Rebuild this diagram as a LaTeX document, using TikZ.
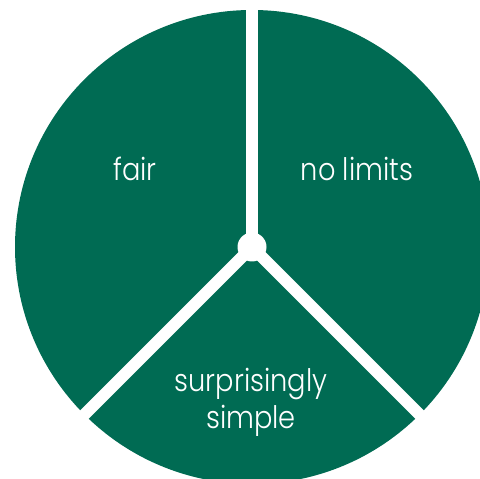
\documentclass[tikz,border=0pt]{standalone}
\usepackage{fontspec}
\setmainfont{Poppins Light}[FakeStretch=0.88]
\usetikzlibrary{calc}
\definecolor{pine}{HTML}{006B53}
\begin{document}
\begin{tikzpicture}[x=1pt,y=1pt,
  divider/.style={white,line width=12pt},
  label/.style={text=white,font=\fontsize{31}{37}\selectfont,align=center,inner sep=0pt}]
\useasboundingbox (0,0) rectangle (480,479);
\clip (0,0) rectangle (480,479);
\coordinate (c) at (252,232);
\fill[pine] (c) circle[radius=237];
\coordinate (up) at ($(c)+(90:250)$);
\coordinate (ll) at ($(c)+(225:250)$);
\coordinate (lr) at ($(c)+(315:250)$);
\draw[divider] (c) -- (up);
\draw[divider] (c) -- (ll);
\draw[divider] (c) -- (lr);
\fill[white] (c) circle[radius=14.5];
\node[label] (fair) at (135,310) {fair};
\node[label] (nolim) at (357,310) {no limits};
\node[label] (simp) at (251,77) {surprisingly\\simple};
\end{tikzpicture}
\end{document}
